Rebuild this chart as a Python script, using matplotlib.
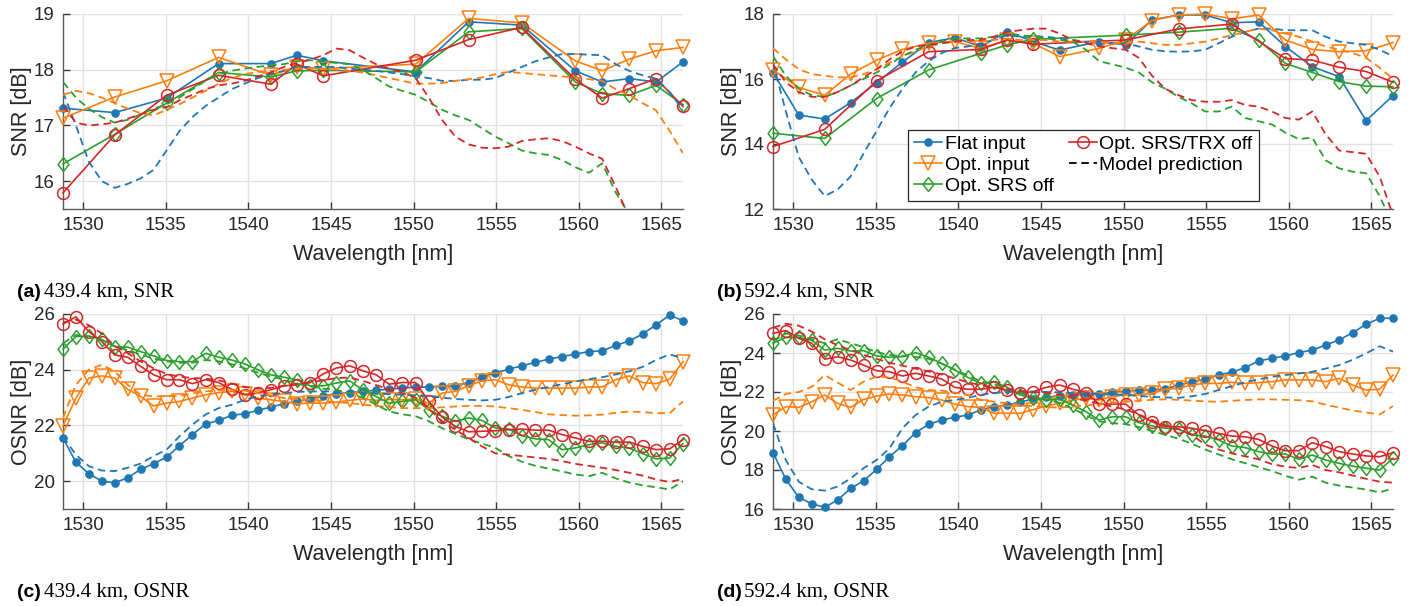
import matplotlib
matplotlib.use("Agg")
import matplotlib.pyplot as plt
from matplotlib.lines import Line2D

# ---------------- data ----------------
wavelength_nm = [1528.77, 1529.55, 1530.33, 1531.12, 1531.90, 1532.68, 1533.47, 1534.25,
                 1535.04, 1535.82, 1536.61, 1537.40, 1538.19, 1538.98, 1539.77, 1540.56,
                 1541.35, 1542.14, 1542.94, 1543.73, 1544.53, 1545.32, 1546.12, 1546.92,
                 1547.72, 1548.51, 1549.32, 1550.12, 1550.92, 1551.72, 1552.52, 1553.33,
                 1554.13, 1554.94, 1555.75, 1556.55, 1557.36, 1558.17, 1558.98, 1559.79,
                 1560.61, 1561.42, 1562.23, 1563.05, 1563.86, 1564.68, 1565.50, 1566.31]

series_labels = ["Flat input", "Opt. input", "Opt. SRS off", "Opt. SRS/TRX off"]
model_label = "Model prediction"
panel_captions = ["(a)", "(b)", "(c)", "(d)"]
panel_texts = ["439.4 km, SNR", "592.4 km, SNR", "439.4 km, OSNR", "592.4 km, OSNR"]

# ---- (a) 439.4 km SNR (measured on a subset of channels) ----
snr_a_idx = [0, 4, 8, 12, 16, 18, 20, 27, 31, 35, 39, 41, 43, 45, 47]
snr_a_flat = [17.31, 17.23, 17.49, 18.11, 18.11, 18.26, 18.16, 17.96, 18.86, 18.80, 17.98, 17.78, 17.84, 17.78, 18.14]
snr_a_opt = [17.13, 17.51, 17.80, 18.22, 17.90, 18.05, 18.02, 18.10, 18.92, 18.84, 18.16, 17.98, 18.19, 18.34, 18.40]
snr_a_srs = [16.31, 16.84, 17.40, 17.95, 17.87, 17.98, 17.99, 17.96, 18.68, 18.74, 17.78, 17.57, 17.54, 17.72, 17.37]
snr_a_trx = [15.79, 16.83, 17.54, 17.90, 17.74, 18.10, 17.89, 18.17, 18.54, 18.76, 17.83, 17.49, 17.66, 17.84, 17.34]

snr_a_model_flat = [17.60, 17.00, 16.35, 16.00, 15.88, 15.95, 16.05, 16.20, 16.55, 16.90,
                    17.15, 17.35, 17.50, 17.65, 17.75, 17.85, 17.92, 17.98, 18.05, 18.05,
                    18.05, 18.05, 18.02, 18.00, 17.98, 17.95, 17.92, 17.88, 17.85, 17.80,
                    17.80, 17.82, 17.82, 17.85, 17.95, 18.05, 18.15, 18.22, 18.28, 18.28,
                    18.27, 18.26, 18.10, 17.98, 17.90, 17.84, 17.60, 17.28]
snr_a_model_opt = [17.55, 17.62, 17.58, 17.50, 17.40, 17.30, 17.22, 17.18, 17.28, 17.38,
                   17.50, 17.62, 17.75, 17.85, 17.92, 17.96, 17.98, 18.00, 18.02, 18.02,
                   18.02, 18.00, 17.98, 17.95, 17.90, 17.85, 17.80, 17.75, 17.75, 17.76,
                   17.80, 17.83, 17.86, 17.92, 17.96, 17.94, 17.92, 17.90, 17.88, 17.86,
                   17.83, 17.80, 17.65, 17.54, 17.40, 17.27, 16.90, 16.50]
snr_a_model_srs = [17.78, 17.50, 17.30, 17.15, 17.05, 17.10, 17.20, 17.30, 17.38, 17.50,
                   17.65, 17.80, 17.92, 17.98, 18.02, 18.05, 18.08, 18.10, 18.15, 18.17,
                   18.15, 18.12, 18.10, 18.00, 17.85, 17.70, 17.62, 17.55, 17.42, 17.28,
                   17.18, 17.10, 16.95, 16.80, 16.68, 16.55, 16.50, 16.47, 16.38, 16.25,
                   16.15, 16.32, 15.80, 15.40, 15.10, 14.80, 14.50, 14.20]
snr_a_model_trx = [17.35, 17.05, 17.00, 17.02, 17.05, 17.12, 17.20, 17.28, 17.33, 17.45,
                   17.55, 17.65, 17.72, 17.75, 17.80, 17.88, 17.95, 18.05, 18.12, 18.18,
                   18.26, 18.38, 18.35, 18.22, 18.10, 18.02, 17.96, 17.85, 17.50, 17.10,
                   16.80, 16.66, 16.60, 16.59, 16.62, 16.72, 16.75, 16.77, 16.72, 16.62,
                   16.50, 16.40, 15.90, 15.35, 15.00, 14.70, 14.40, 14.20]

# ---- (b) 592.4 km SNR ----
snr_b_idx = [0, 2, 4, 6, 8, 10, 12, 14, 16, 18, 20, 22, 25, 27, 29, 31, 33, 35, 37, 39, 41, 43, 45, 47]
snr_b_flat = [16.20, 14.89, 14.77, 15.27, 15.89, 16.52, 17.12, 17.27, 17.00, 17.46, 17.15, 16.89,
              17.15, 17.05, 17.82, 17.97, 17.97, 17.73, 17.76, 17.00, 16.38, 16.07, 14.72, 15.49]
snr_b_opt = [16.28, 15.74, 15.50, 16.15, 16.58, 16.91, 17.10, 17.15, 16.94, 17.20, 17.10, 16.69,
             16.94, 17.20, 17.80, 17.97, 18.00, 17.85, 17.97, 17.20, 16.91, 16.84, 16.87, 17.12]
snr_b_srs_idx = [0, 4, 8, 12, 16, 18, 20, 27, 31, 35, 37, 39, 41, 43, 45, 47]
snr_b_srs = [14.33, 14.17, 15.40, 16.28, 16.79, 17.05, 17.22, 17.35, 17.44, 17.56, 17.20, 16.48,
             16.20, 15.92, 15.78, 15.76]
snr_b_trx_idx = [0, 4, 8, 12, 16, 18, 20, 27, 31, 35, 39, 41, 43, 45, 47]
snr_b_trx = [13.92, 14.45, 15.94, 16.84, 16.91, 17.20, 17.07, 17.20, 17.54, 17.69, 16.63, 16.58,
             16.36, 16.23, 15.90]

snr_b_model_flat = [16.50, 15.00, 13.60, 12.90, 12.40, 12.60, 13.00, 13.70, 14.40, 15.10,
                    15.70, 16.20, 16.55, 16.80, 16.95, 17.00, 17.10, 17.20, 17.35, 17.30,
                    17.30, 17.30, 17.25, 17.20, 17.15, 17.15, 17.10, 17.10, 17.00, 16.90,
                    16.85, 16.84, 16.85, 16.90, 17.10, 17.30, 17.45, 17.55, 17.55, 17.50,
                    17.50, 17.50, 17.30, 17.15, 17.10, 17.05, 16.90, 16.70]
snr_b_model_opt = [16.95, 16.60, 16.30, 16.15, 16.10, 16.05, 16.05, 16.15, 16.30, 16.50,
                   16.70, 16.85, 17.00, 17.10, 17.15, 17.15, 17.15, 17.20, 17.25, 17.20,
                   17.20, 17.20, 17.15, 17.15, 17.15, 17.15, 17.10, 17.10, 17.15, 17.10,
                   17.05, 17.05, 17.10, 17.15, 17.25, 17.35, 17.45, 17.55, 17.50, 17.40,
                   17.30, 17.15, 17.00, 16.90, 16.80, 16.65, 16.35, 16.00]
snr_b_model_srs = [16.70, 16.10, 15.70, 15.50, 15.45, 15.60, 15.80, 16.00, 16.20, 16.45,
                   16.70, 16.90, 17.05, 17.15, 17.25, 17.25, 17.25, 17.30, 17.40, 17.35,
                   17.30, 17.25, 17.20, 17.15, 16.90, 16.55, 16.45, 16.35, 16.20, 15.90,
                   15.70, 15.45, 15.25, 15.00, 15.00, 15.15, 14.80, 14.70, 14.60, 14.35,
                   14.15, 14.20, 13.50, 13.25, 13.15, 13.10, 12.40, 11.50]
snr_b_model_trx = [16.45, 15.90, 15.60, 15.45, 15.45, 15.60, 15.80, 16.05, 16.30, 16.60,
                   16.85, 17.00, 17.05, 17.10, 17.15, 17.20, 17.20, 17.30, 17.45, 17.50,
                   17.55, 17.55, 17.40, 17.20, 17.10, 17.00, 16.95, 16.90, 16.65, 16.10,
                   15.70, 15.50, 15.35, 15.30, 15.30, 15.35, 15.20, 15.15, 15.00, 14.80,
                   14.75, 15.00, 14.30, 13.80, 13.75, 13.70, 13.00, 11.80]

# ---- (c) 439.4 km OSNR (all channels) ----
osnr_c_flat = [21.55, 20.68, 20.27, 20.00, 19.94, 20.12, 20.42, 20.63, 20.86, 21.27,
               21.67, 22.05, 22.18, 22.36, 22.42, 22.54, 22.66, 22.78, 22.86, 22.95,
               23.06, 23.14, 23.18, 23.22, 23.26, 23.30, 23.34, 23.37, 23.38, 23.40,
               23.42, 23.54, 23.73, 23.88, 24.02, 24.14, 24.26, 24.38, 24.47, 24.56,
               24.65, 24.68, 24.87, 25.03, 25.28, 25.61, 25.96, 25.76]
osnr_c_opt = [21.99, 22.98, 23.70, 23.78, 23.70, 23.30, 23.04, 22.70, 22.80, 22.86,
              22.98, 23.10, 23.18, 23.22, 23.14, 22.98, 22.92, 22.86, 22.78, 22.80,
              22.80, 22.83, 22.90, 22.95, 22.90, 22.93, 22.92, 22.95, 22.80, 23.16,
              23.22, 23.42, 23.60, 23.64, 23.46, 23.38, 23.34, 23.34, 23.34, 23.34,
              23.38, 23.38, 23.64, 23.78, 23.54, 23.50, 23.66, 24.29]
osnr_c_srs = [24.74, 25.19, 25.21, 25.09, 24.83, 24.81, 24.65, 24.50, 24.33, 24.29,
              24.29, 24.59, 24.45, 24.35, 24.21, 24.00, 23.82, 23.73, 23.64, 23.42,
              23.42, 23.52, 23.60, 23.28, 23.04, 22.80, 22.86, 22.92, 22.56, 22.33,
              22.15, 22.27, 22.18, 21.91, 21.87, 21.63, 21.52, 21.49, 21.13, 21.19,
              21.31, 21.37, 21.25, 21.19, 20.99, 20.80, 20.83, 21.35]
osnr_c_trx = [25.64, 25.90, 25.37, 25.01, 24.53, 24.45, 24.12, 23.82, 23.64, 23.64,
              23.50, 23.64, 23.54, 23.30, 23.10, 23.16, 23.28, 23.42, 23.46, 23.54,
              23.85, 24.06, 24.14, 23.96, 23.82, 23.48, 23.54, 23.54, 22.86, 22.30,
              21.97, 21.77, 21.79, 21.81, 21.85, 21.87, 21.83, 21.83, 21.67, 21.55,
              21.43, 21.43, 21.40, 21.40, 21.25, 21.13, 21.16, 21.49]

osnr_c_model_flat = [21.60, 20.95, 20.54, 20.38, 20.36, 20.48, 20.63, 20.90, 21.13, 21.61,
                     22.03, 22.39, 22.62, 22.74, 22.92, 23.04, 23.12, 23.16, 23.20, 23.22,
                     23.22, 23.22, 23.20, 23.18, 23.15, 23.12, 23.10, 23.08, 23.05, 23.00,
                     22.95, 22.92, 22.90, 22.92, 23.02, 23.16, 23.28, 23.38, 23.48, 23.58,
                     23.66, 23.73, 23.83, 23.94, 24.10, 24.35, 24.55, 24.41]
osnr_c_model_opt = [22.27, 23.46, 24.00, 24.18, 23.94, 23.46, 23.10, 23.04, 23.05, 23.05,
                    23.15, 23.22, 23.26, 23.28, 23.25, 23.16, 23.08, 22.98, 22.94, 22.92,
                    22.88, 22.84, 22.80, 22.75, 22.70, 22.66, 22.62, 22.62, 22.62, 22.65,
                    22.68, 22.70, 22.70, 22.68, 22.62, 22.56, 22.48, 22.40, 22.37, 22.35,
                    22.36, 22.39, 22.45, 22.50, 22.48, 22.44, 22.44, 22.86]
osnr_c_model_srs = [24.95, 25.25, 25.20, 25.05, 24.85, 24.70, 24.55, 24.40, 24.30, 24.25,
                    24.25, 24.35, 24.30, 24.20, 24.05, 23.90, 23.75, 23.65, 23.50, 23.40,
                    23.32, 23.28, 23.15, 23.00, 22.75, 22.50, 22.40, 22.33, 22.15, 21.90,
                    21.70, 21.50, 21.35, 21.20, 20.90, 20.70, 20.55, 20.45, 20.35, 20.24,
                    20.18, 20.30, 20.10, 19.95, 19.85, 19.78, 19.70, 20.00]
osnr_c_model_trx = [25.70, 25.80, 25.60, 25.30, 24.85, 24.60, 24.30, 24.05, 23.85, 23.75,
                    23.70, 23.68, 23.62, 23.50, 23.38, 23.32, 23.35, 23.42, 23.50, 23.55,
                    23.62, 23.70, 23.72, 23.60, 23.45, 23.30, 23.15, 23.00, 22.60, 22.15,
                    21.85, 21.55, 21.25, 21.00, 20.95, 20.90, 20.85, 20.80, 20.72, 20.62,
                    20.55, 20.48, 20.40, 20.30, 20.20, 20.06, 19.97, 20.08]

# ---- (d) 592.4 km OSNR ----
osnr_d_flat = [18.89, 17.52, 16.60, 16.26, 16.09, 16.46, 17.06, 17.44, 18.03, 18.68,
               19.25, 19.91, 20.34, 20.56, 20.70, 20.82, 21.08, 21.25, 21.33, 21.50,
               21.62, 21.72, 21.80, 21.85, 21.88, 21.90, 21.98, 22.05, 22.08, 22.10,
               22.15, 22.35, 22.53, 22.65, 22.87, 23.02, 23.25, 23.59, 23.73, 23.85,
               24.02, 24.15, 24.41, 24.67, 25.04, 25.47, 25.78, 25.78]
osnr_d_opt = [20.82, 21.25, 21.21, 21.50, 21.85, 21.42, 21.21, 21.62, 21.79, 21.90,
              21.85, 21.76, 21.71, 21.59, 21.38, 21.25, 21.21, 20.91, 20.91, 20.91,
              21.10, 21.28, 21.42, 21.59, 21.68, 21.59, 21.76, 21.85, 21.85, 21.93,
              22.14, 22.19, 22.36, 22.44, 22.44, 22.50, 22.44, 22.48, 22.53, 22.62,
              22.62, 22.62, 22.53, 22.70, 22.36, 22.10, 22.14, 22.87]
osnr_d_srs = [24.50, 24.80, 24.80, 24.65, 24.15, 24.24, 24.10, 24.12, 23.85, 23.78,
              23.81, 24.02, 23.78, 23.47, 23.13, 22.75, 22.44, 22.53, 22.24, 21.85,
              21.68, 21.60, 21.62, 21.33, 20.99, 20.56, 20.73, 20.73, 20.43, 20.26,
              20.14, 20.09, 19.79, 19.74, 19.54, 19.23, 19.15, 18.94, 18.82, 18.82,
              18.55, 18.77, 18.51, 18.34, 18.20, 18.09, 18.00, 18.60]
osnr_d_trx = [25.01, 25.15, 24.75, 24.50, 23.68, 23.81, 23.64, 23.38, 23.09, 23.04,
              22.82, 22.96, 22.82, 22.67, 22.24, 22.14, 22.14, 22.24, 22.10, 21.93,
              22.02, 22.24, 22.36, 22.14, 21.97, 21.38, 21.38, 21.38, 20.82, 20.48,
              20.22, 20.22, 20.14, 20.02, 19.88, 19.74, 19.70, 19.57, 19.23, 18.99,
              18.99, 19.40, 19.20, 18.94, 18.82, 18.72, 18.68, 18.89]

osnr_d_model_flat = [20.40, 18.50, 17.40, 17.01, 16.94, 17.15, 17.57, 18.09, 18.51, 19.11,
                     20.14, 20.82, 21.25, 21.50, 21.59, 21.70, 21.85, 21.95, 22.00, 22.02,
                     22.02, 22.00, 21.98, 21.95, 21.92, 21.90, 21.88, 21.85, 21.80, 21.75,
                     21.72, 21.70, 21.78, 21.90, 22.10, 22.30, 22.50, 22.65, 22.78, 22.87,
                     22.95, 23.04, 23.20, 23.38, 23.65, 23.98, 24.35, 24.07]
osnr_d_model_opt = [21.55, 21.90, 22.00, 22.27, 22.87, 22.48, 22.10, 22.53, 22.79, 22.75,
                    22.53, 22.24, 22.10, 22.07, 21.97, 21.85, 21.60, 21.50, 21.42, 21.35,
                    21.28, 21.22, 21.20, 21.25, 21.30, 21.38, 21.45, 21.50, 21.55, 21.60,
                    21.62, 21.60, 21.56, 21.52, 21.50, 21.55, 21.59, 21.62, 21.62, 21.60,
                    21.58, 21.52, 21.35, 21.20, 21.05, 20.95, 20.85, 21.28]
osnr_d_model_srs = [24.60, 25.00, 24.90, 24.70, 24.50, 24.70, 24.50, 24.30, 24.05, 23.90,
                    23.85, 23.80, 23.70, 23.45, 23.15, 22.85, 22.55, 22.40, 22.20, 21.95,
                    21.75, 21.60, 21.45, 21.15, 20.80, 20.50, 20.40, 20.35, 20.20, 20.00,
                    19.80, 19.60, 19.35, 19.05, 18.80, 18.55, 18.35, 18.15, 17.95, 17.70,
                    17.50, 17.66, 17.35, 17.20, 17.10, 17.00, 16.85, 17.06]
osnr_d_model_trx = [25.30, 25.50, 25.40, 25.10, 24.70, 24.40, 24.15, 23.90, 23.70, 23.50,
                    23.35, 23.20, 23.05, 22.90, 22.70, 22.50, 22.35, 22.25, 22.15, 22.05,
                    22.00, 21.95, 21.85, 21.70, 21.55, 21.40, 21.25, 21.10, 20.85, 20.55,
                    20.30, 20.10, 19.80, 19.30, 19.05, 18.85, 18.70, 18.55, 18.30, 18.17,
                    18.10, 18.26, 18.00, 17.88, 17.72, 17.55, 17.40, 17.35]

# ---------------- style ----------------
W, H = 1417, 606
colors = ["#1f77b4", "#ff7f0e", "#2ca02c", "#d62728"]
diamond = [(0, 1), (0.78, 0), (0, -1), (-0.78, 0), (0, 1)]
markers = [dict(marker="o", ms=5.2, mfc=colors[0], mec=colors[0]),
           dict(marker="v", ms=9.5, mfc="none", mec=colors[1], mew=1.1),
           dict(marker=diamond, ms=10, mfc="none", mec=colors[2], mew=1.1),
           dict(marker="o", ms=8.5, mfc="none", mec=colors[3], mew=1.1)]
DASH = (4.2, 2.6)
TXT = "#262626"
SANS = ["Liberation Sans", "DejaVu Sans"]
SERIF = ["Liberation Serif", "DejaVu Serif"]
plt.rcParams["font.family"] = SANS

fig = plt.figure(figsize=(W / 100, H / 100), dpi=100)


def make_axes(l, r, t, b):
    return fig.add_axes([l / W, 1 - b / H, (r - l) / W, (b - t) / H])


def style(ax, ylim, yticks, ylabel):
    ax.set_xlim(wavelength_nm[0], wavelength_nm[-1])
    ax.set_ylim(*ylim)
    ax.set_xticks(list(range(1530, 1566, 5)))
    ax.set_yticks(yticks)
    ax.grid(True, color="#e2e2e2", lw=1.0)
    ax.set_axisbelow(True)
    for s in ["top", "right"]:
        ax.spines[s].set_visible(False)
    for s in ["left", "bottom"]:
        ax.spines[s].set_color("#5a5a5a")
        ax.spines[s].set_linewidth(1.0)
    ax.tick_params(direction="in", length=5, width=1.0, color="#3a3a3a",
                   labelsize=13.5, labelcolor=TXT)
    ax.tick_params(axis="x", pad=6)
    ax.tick_params(axis="y", pad=6)
    ax.set_xlabel("Wavelength [nm]", fontsize=15.5, color=TXT, labelpad=7)
    ax.set_ylabel(ylabel, fontsize=15.5, color=TXT, labelpad=1)


def draw(ax, meas, models):
    handles = []
    for i, (idx, vals) in enumerate(meas):
        xs = [wavelength_nm[k] for k in idx]
        h, = ax.plot(xs, vals, color=colors[i], lw=1.2, label=series_labels[i],
                     clip_on=False, zorder=3, **markers[i])
        handles.append(h)
    for i, vals in enumerate(models):
        ax.plot(wavelength_nm, vals, color=colors[i], lw=1.3, dashes=DASH, zorder=4,
                clip_on=True)
    return handles


all_idx = list(range(len(wavelength_nm)))

ax_a = make_axes(63, 683, 14, 209)
style(ax_a, (15.5, 19), [16, 17, 18, 19], "SNR [dB]")
draw(ax_a, [(snr_a_idx, snr_a_flat), (snr_a_idx, snr_a_opt), (snr_a_idx, snr_a_srs), (snr_a_idx, snr_a_trx)],
     [snr_a_model_flat, snr_a_model_opt, snr_a_model_srs, snr_a_model_trx])

ax_b = make_axes(773, 1393, 14, 209)
style(ax_b, (12, 18), [12, 14, 16, 18], "SNR [dB]")
hb = draw(ax_b, [(snr_b_idx, snr_b_flat), (snr_b_idx, snr_b_opt), (snr_b_srs_idx, snr_b_srs), (snr_b_trx_idx, snr_b_trx)],
          [snr_b_model_flat, snr_b_model_opt, snr_b_model_srs, snr_b_model_trx])

ax_c = make_axes(63, 683, 314, 509)
style(ax_c, (19, 26), [20, 22, 24, 26], "OSNR [dB]")
draw(ax_c, [(all_idx, osnr_c_flat), (all_idx, osnr_c_opt), (all_idx, osnr_c_srs), (all_idx, osnr_c_trx)],
     [osnr_c_model_flat, osnr_c_model_opt, osnr_c_model_srs, osnr_c_model_trx])

ax_d = make_axes(773, 1393, 314, 509)
style(ax_d, (16, 26), [16, 18, 20, 22, 24, 26], "OSNR [dB]")
draw(ax_d, [(all_idx, osnr_d_flat), (all_idx, osnr_d_opt), (all_idx, osnr_d_srs), (all_idx, osnr_d_trx)],
     [osnr_d_model_flat, osnr_d_model_opt, osnr_d_model_srs, osnr_d_model_trx])

model_handle = Line2D([], [], color="black", lw=1.3, dashes=DASH)
leg = ax_b.legend(hb + [model_handle], series_labels + [model_label], ncol=2,
                  loc="lower left", bbox_to_anchor=(0.218, 0.041), fontsize=14,
                  frameon=True, fancybox=False, edgecolor="#262626", framealpha=1,
                  handlelength=1.45, handletextpad=0.12, columnspacing=0.8,
                  labelspacing=0.18, borderpad=0.3, borderaxespad=0)
leg.get_frame().set_linewidth(0.9)
leg.set_zorder(10)
for t in leg.get_texts():
    t.set_color("black")

# captions
cap_pos = [(17, 296.7), (717, 296.7), (17, 596.7), (717, 596.7)]
for (cx, cy), c, txt in zip(cap_pos, panel_captions, panel_texts):
    fig.text(cx / W, 1 - cy / H, c, fontsize=14, fontweight="bold", family=SANS,
             va="baseline", ha="left", color="black")
    fig.text((cx + 27) / W, 1 - cy / H, txt, fontsize=15, family=SERIF,
             va="baseline", ha="left", color="black")

fig.savefig("out.png", dpi=100)
